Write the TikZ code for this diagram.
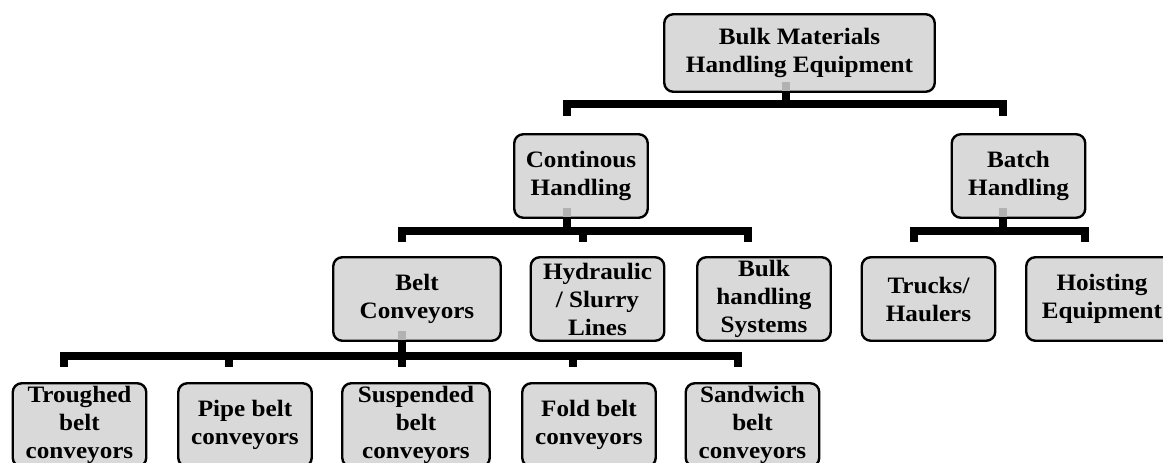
\documentclass[tikz,border=0pt]{standalone}
\usepackage{fontspec}
\newfontfamily\boxfont{Liberation Serif}[UprightFont={* Bold}, FakeStretch=1.07]
\definecolor{boxgray}{RGB}{217,217,217}
\definecolor{stubgray}{RGB}{178,178,178}
\begin{document}
\begin{tikzpicture}[x=1pt, y=-1pt,
item/.style={rectangle, rounded corners=9pt, draw=black, line width=2.4pt, fill=boxgray, align=center, inner sep=0pt, minimum width=133.5pt, minimum height=83.5pt, font=\boxfont\fontsize{23.5}{28}\selectfont},
bus/.style={draw=black, line width=7.5pt, line join=miter},
stub/.style={draw=stubgray, line width=7.5pt},
]
\useasboundingbox (0,0) rectangle (1163,463);
\clip (0,0) rectangle (1163,463);
\node[item, minimum width=270.5pt, minimum height=77.5pt] (bmhe) at (799.5,53) {Bulk Materials\\Handling Equipment};
\node[item] (cont) at (581,176) {Continous\\Handling};
\node[item] (batch) at (1018.5,176) {Batch\\Handling};
\node[item, minimum width=167.5pt] (belt) at (417,299) {Belt\\Conveyors};
\node[item] (hydr) at (597.5,299) {Hydraulic\\/ Slurry\\Lines};
\node[item] (bulksys) at (764,299) {Bulk\\handling\\Systems};
\node[item] (trucks) at (928.5,299) {Trucks/\\Haulers};
\node[item, minimum width=151.5pt] (hoist) at (1102,299) {Hoisting\\Equipment};
\node[item] (trough) at (79.5,425) {Troughed\\belt\\conveyors};
\node[item] (pipe) at (245,425) {Pipe belt\\conveyors};
\node[item, minimum width=147.5pt] (susp) at (416,425) {Suspended\\belt\\conveyors};
\node[item] (fold) at (589,425) {Fold belt\\conveyors};
\node[item] (sand) at (752.5,425) {Sandwich\\belt\\conveyors};

\coordinate (j0) at (786,104);
\coordinate (d-cont) at (567,116);
\coordinate (d-batch) at (1003,116);
\coordinate (s0) at (bmhe.south -| j0);
\draw[bus] (d-cont) |- (j0) -| (d-batch);
\draw[bus] (s0) -- (j0);
\draw[stub] ([yshift=2pt]s0) -- ([yshift=11pt]s0);

\coordinate (j1) at (567,231);
\coordinate (d-belt) at (402,242);
\coordinate (d-hydr) at (583,242);
\coordinate (d-bulksys) at (748,242);
\coordinate (s1) at (cont.south -| j1);
\draw[bus] (d-belt) |- (j1) -| (d-bulksys);
\draw[bus] (j1 -| d-hydr) -- (d-hydr);
\draw[bus] (s1) -- (j1);
\draw[stub] ([yshift=2pt]s1) -- ([yshift=11pt]s1);

\coordinate (j2) at (1003,231);
\coordinate (d-trucks) at (914,242);
\coordinate (d-hoist) at (1085,242);
\coordinate (s2) at (batch.south -| j2);
\draw[bus] (d-trucks) |- (j2) -| (d-hoist);
\draw[bus] (s2) -- (j2);
\draw[stub] ([yshift=2pt]s2) -- ([yshift=11pt]s2);

\coordinate (j3) at (402,356);
\coordinate (d-trough) at (64,367);
\coordinate (d-pipe) at (229,367);
\coordinate (d-susp) at (402,367);
\coordinate (d-fold) at (573,367);
\coordinate (d-sand) at (738,367);
\coordinate (s3) at (belt.south -| j3);
\draw[bus] (d-trough) |- (j3) -| (d-sand);
\draw[bus] (j3 -| d-pipe) -- (d-pipe);
\draw[bus] (j3) -- (d-susp);
\draw[bus] (j3 -| d-fold) -- (d-fold);
\draw[bus] (s3) -- (j3);
\draw[stub] ([yshift=2pt]s3) -- ([yshift=11pt]s3);
\end{tikzpicture}
\end{document}
